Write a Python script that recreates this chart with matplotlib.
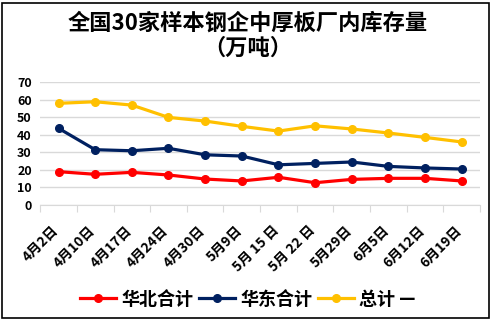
import matplotlib.pyplot as plt
from matplotlib.patches import Rectangle

plt.rcParams['font.family'] = ['Noto Sans CJK SC', 'DejaVu Sans']

dates = ["4月2日", "4月10日", "4月17日", "4月24日", "4月30日", "5月9日",
         "5月 15 日", "5月 22 日", "5月29日", "6月5日", "6月12日", "6月19日"]
huabei = [19.0, 17.5, 18.6, 17.1, 14.8, 13.7, 15.8, 12.7, 14.6, 15.2, 15.2, 13.7]
huadong = [43.7, 31.5, 30.9, 32.3, 28.6, 27.9, 22.9, 23.7, 24.5, 22.0, 21.1, 20.5]
total = [57.9, 58.8, 56.9, 49.9, 47.8, 44.8, 42.1, 45.1, 43.3, 41.0, 38.5, 35.9]
yticks = [0, 10, 20, 30, 40, 50, 60, 70]

fig = plt.figure(figsize=(4.96, 3.27), dpi=100)
ax = fig.add_axes([0.081, 0.373, 0.887, 0.376])

x = list(range(len(dates)))
series = [(huabei, "#FF0000", "华北合计"),
          (huadong, "#002060", "华东合计"),
          (total, "#FFC000", "总计 —")]
for vals, color, label in series:
    ax.plot(x, vals, color=color, lw=2.3, marker="o", ms=5.5, label=label)

ax.set_xlim(-0.5, len(dates) - 0.5)
ax.set_ylim(0, 70)
ax.set_yticks(yticks)
ax.set_yticklabels([str(v) for v in yticks], fontsize=9, fontweight="bold")
ax.grid(axis="y", color="#D9D9D9", lw=1)
ax.set_axisbelow(True)
for s in ["top", "right", "left"]:
    ax.spines[s].set_visible(False)
ax.spines["bottom"].set_color("#D9D9D9")
ax.tick_params(axis="y", length=0, pad=6)

ax.set_xticks([i - 0.5 for i in range(len(dates) + 1)], minor=False)
ax.set_xticklabels([])
ax.tick_params(axis="x", length=5, color="#D9D9D9", direction="out")
for i, d in enumerate(dates):
    ax.annotate(d, xy=(i, 0), xycoords=("data", "axes fraction"),
                xytext=(-5, -13), textcoords="offset points",
                rotation=45, ha="right", va="top", rotation_mode="anchor",
                fontsize=10, fontweight="bold")

fig.text(0.5, 0.93, "全国30家样本钢企中厚板厂内库存量", ha="center", va="center",
         fontsize=16, fontweight="bold")
fig.text(0.5, 0.852, "（万吨）", ha="center", va="center",
         fontsize=16, fontweight="bold")

fig.legend(loc="center", bbox_to_anchor=(0.5, 0.085), ncol=3, frameon=False,
           handlelength=2.0, handletextpad=0.3, columnspacing=0.3,
           prop={"weight": "bold", "size": 13})

fig.patches.append(Rectangle((0.004, 0.027), 0.982, 0.965, transform=fig.transFigure,
                             fill=False, edgecolor="black", lw=1.2))

fig.savefig("out.png", dpi=100)
